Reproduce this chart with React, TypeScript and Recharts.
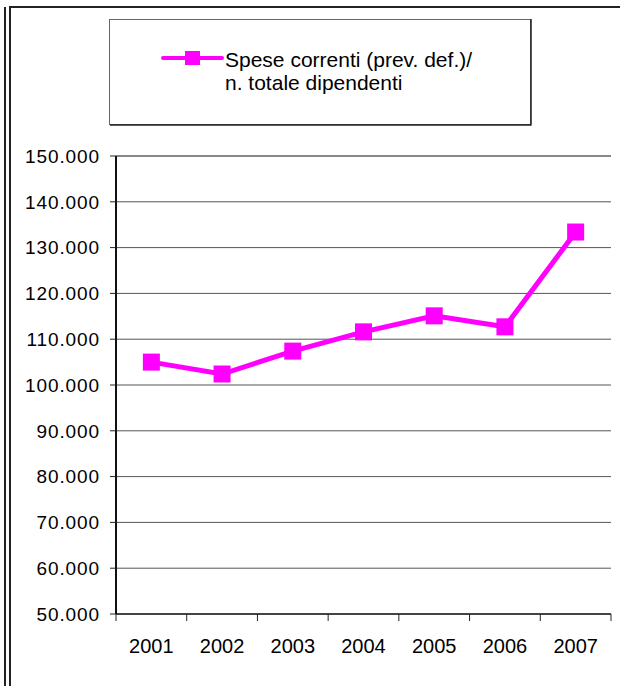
import React from "react";
import {
  LineChart, Line, XAxis, YAxis, CartesianGrid, ReferenceLine,
} from "recharts";

const years = ["2001", "2002", "2003", "2004", "2005", "2006", "2007"];
const values = [105000, 102400, 107400, 111600, 115100, 112700, 133400];
const yTicks = [50000, 60000, 70000, 80000, 90000, 100000, 110000, 120000, 130000, 140000, 150000];
const legendLines = ["Spese correnti (prev. def.)/", "n. totale dipendenti"];

const data = years.map((year, i) => ({ year, value: values[i] }));

const W = 620;
const H = 686;
const PLOT_LEFT = 116;
const PLOT_RIGHT = 9;
const HALF_BAND = (W - PLOT_LEFT - PLOT_RIGHT) / years.length / 2;
const MAGENTA = "#FF00FF";
const FONT = "'Liberation Sans', Arial, sans-serif";

const fmt = (v: number) => String(v).replace(/\B(?=(\d{3})+(?!\d))/g, ".");

const XTick = (props: any) => {
  const { x, y, payload, index } = props;
  return (
    <g>
      <line x1={x - HALF_BAND} x2={x - HALF_BAND} y1={y} y2={y + 7} stroke="#222" strokeWidth={1} />
      {index === years.length - 1 && (
        <line x1={x + HALF_BAND} x2={x + HALF_BAND} y1={y} y2={y + 7} stroke="#222" strokeWidth={1} />
      )}
      <text x={x} y={y + 39} textAnchor="middle" fontSize={20} fontFamily={FONT} fill="#000">
        {payload.value}
      </text>
    </g>
  );
};

const SquareDot = (props: any) => {
  const { cx, cy, index } = props;
  return <rect key={index} x={cx - 8.5} y={cy - 8.5} width={17} height={17} fill={MAGENTA} />;
};

export default function App() {
  return (
    <div style={{ position: "absolute", left: 0, top: 0, width: W, height: H, background: "#fff", fontFamily: FONT }}>
      <LineChart
        width={W}
        height={H}
        data={data}
        margin={{ top: 156, right: PLOT_RIGHT, bottom: 0, left: 0 }}
      >
        <CartesianGrid horizontal vertical={false} stroke="#555" strokeWidth={1} />
        <XAxis
          dataKey="year"
          height={72}
          padding={{ left: HALF_BAND, right: HALF_BAND }}
          axisLine={{ stroke: "#444", strokeWidth: 2 }}
          tickLine={false}
          tickSize={0}
          tickMargin={0}
          tick={<XTick />}
          interval={0}
        />
        <YAxis
          width={PLOT_LEFT}
          domain={[50000, 150000]}
          ticks={yTicks}
          tickFormatter={fmt}
          axisLine={{ stroke: "#111", strokeWidth: 2 }}
          tickLine={{ stroke: "#222" }}
          tickSize={6}
          tickMargin={10}
          tick={{ fill: "#000", fontSize: 19, fontFamily: FONT, letterSpacing: 0.9 }}
          interval={0}
        />
        <YAxis
          yAxisId="right"
          orientation="right"
          width={0}
          domain={[50000, 150000]}
          tick={false}
          tickLine={false}
          axisLine={{ stroke: "#999", strokeWidth: 2 }}
        />
        <ReferenceLine y={150000} stroke="#888" strokeWidth={2} />
        <Line
          type="linear"
          dataKey="value"
          stroke={MAGENTA}
          strokeWidth={5}
          dot={SquareDot}
          activeDot={false}
          isAnimationActive={false}
        />
      </LineChart>

      <svg
        width={W}
        height={H}
        style={{ position: "absolute", left: 0, top: 0, pointerEvents: "none" }}
      >
        {/* page frame */}
        <line x1={5} x2={5} y1={7} y2={H} stroke="#222" strokeWidth={2} />
        <line x1={10} x2={10} y1={6} y2={H} stroke="#222" strokeWidth={2} />
        <line x1={9} x2={W} y1={7} y2={7} stroke="#222" strokeWidth={2} />

        {/* legend box */}
        <rect x={109.5} y={19.5} width={421} height={105} fill="#fff" stroke="#666" strokeWidth={1} />
        <line x1={110} x2={531} y1={125} y2={125} stroke="#222" strokeWidth={1.5} />
        <line x1={531} x2={531} y1={19} y2={125.5} stroke="#222" strokeWidth={1.5} />
        <line x1={163} x2={222} y1={58} y2={58} stroke={MAGENTA} strokeWidth={4} strokeLinecap="round" />
        <rect x={185} y={51} width={15} height={14} fill={MAGENTA} />
        {legendLines.map((t, i) => (
          <text key={t} x={225} y={67 + i * 23} fontSize={21} fontFamily={FONT} fill="#000">
            {t}
          </text>
        ))}
      </svg>
    </div>
  );
}
